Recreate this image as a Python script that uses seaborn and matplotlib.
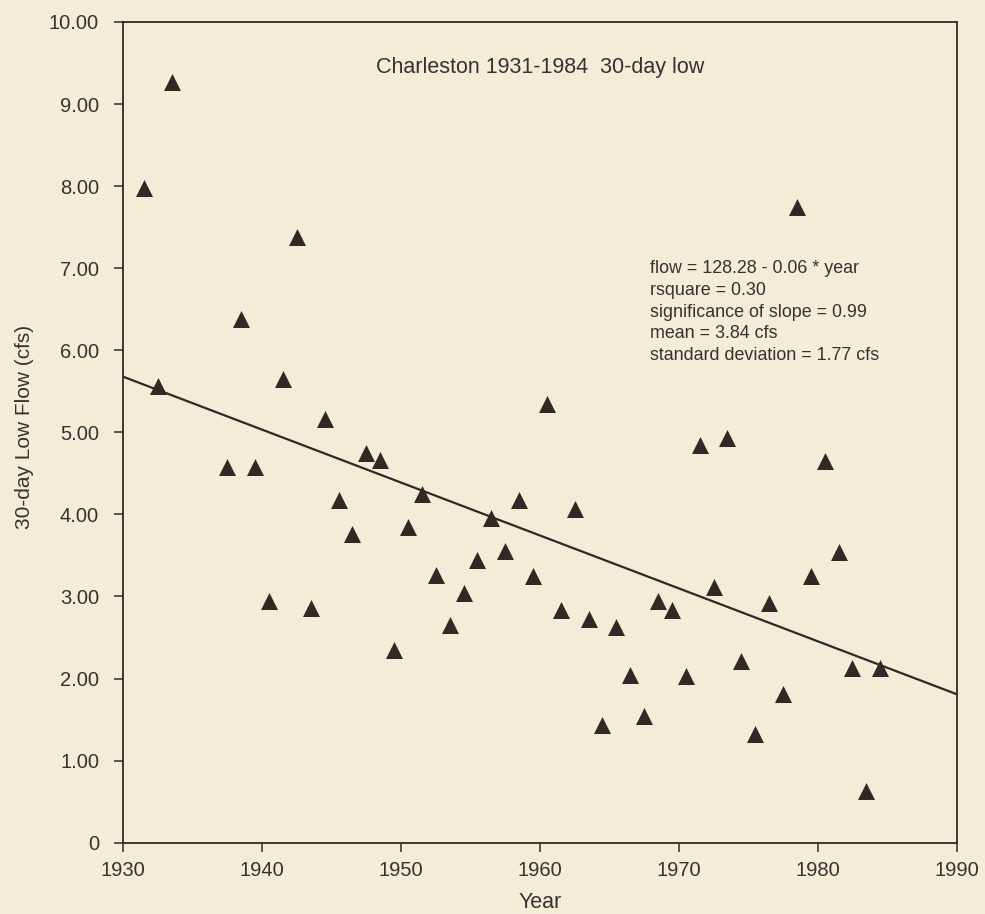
import pandas as pd
import matplotlib.pyplot as plt
import seaborn as sns

# Charleston 30-day low flow
years = [1931, 1932, 1933,
         1937, 1938, 1939, 1940, 1941, 1942, 1943, 1944, 1945, 1946,
         1947, 1948, 1949, 1950, 1951, 1952, 1953, 1954, 1955, 1956,
         1957, 1958, 1959, 1960, 1961, 1962, 1963, 1964, 1965, 1966,
         1967, 1968, 1969, 1970, 1971, 1972, 1973, 1974, 1975, 1976,
         1977, 1978, 1979, 1980, 1981, 1982, 1983, 1984]
flow = [7.98, 5.56, 9.27,
        4.58, 6.38, 4.58, 2.95, 5.65, 7.38, 2.86, 5.16, 4.17, 3.76,
        4.75, 4.66, 2.35, 3.85, 4.25, 3.26, 2.65, 3.04, 3.45, 3.96,
        3.55, 4.17, 3.25, 5.34, 2.83, 4.07, 2.73, 1.43, 2.63, 2.04,
        1.54, 2.94, 2.84, 2.03, 4.84, 3.12, 4.93, 2.21, 1.33, 2.92,
        1.81, 7.74, 3.25, 4.65, 3.54, 2.13, 0.63, 2.13]

x_ticks = [1930, 1940, 1950, 1960, 1970, 1980, 1990]
y_ticks = [0, 1, 2, 3, 4, 5, 6, 7, 8, 9, 10]
y_tick_labels = ["0", "1.00", "2.00", "3.00", "4.00", "5.00",
                 "6.00", "7.00", "8.00", "9.00", "10.00"]

title = "Charleston 1931-1984  30-day low"
stats_text = ("flow = 128.28 - 0.06 * year\n"
              "rsquare = 0.30\n"
              "significance of slope = 0.99\n"
              "mean = 3.84 cfs\n"
              "standard deviation = 1.77 cfs")

df = pd.DataFrame({"year": years, "flow": flow})
# markers sit in the middle of each year
df["x"] = df["year"] + 0.5

paper = "#f3ecd7"
ink = "#2f2a26"
text_col = "#36322f"

sns.set_theme(style="ticks")
plt.rcParams["font.family"] = ["Liberation Sans", "DejaVu Sans"]

fig = plt.figure(figsize=(9.85, 9.14), dpi=100)
fig.patch.set_facecolor(paper)
ax = fig.add_axes([0.1252, 0.078, 0.846, 0.898])
ax.set_facecolor(paper)

ax.set_xlim(1930, 1990)
ax.set_ylim(0, 10)

sns.regplot(data=df, x="x", y="flow", ax=ax, scatter=False, ci=None,
            truncate=False, color=ink, line_kws={"linewidth": 1.6})
sns.scatterplot(data=df, x="x", y="flow", ax=ax, marker="^", s=150,
                color=ink, edgecolor=ink, linewidth=0, zorder=3)

ax.set_xticks(x_ticks)
ax.set_xticklabels([str(t) for t in x_ticks])
ax.set_yticks(y_ticks)
ax.set_yticklabels(y_tick_labels)
ax.tick_params(axis="both", direction="out", length=6.5, width=1.1,
               color=ink, labelsize=14.5, labelcolor=text_col)
ax.tick_params(axis="y", pad=11)
ax.tick_params(axis="x", pad=7)

for side in ["left", "right", "top", "bottom"]:
    ax.spines[side].set_visible(True)
    ax.spines[side].set_color(ink)
    ax.spines[side].set_linewidth(1.3)

ax.set_xlabel("Year", fontsize=15.5, color=text_col, labelpad=8)
ax.set_ylabel("30-day Low Flow (cfs)", fontsize=15, color=text_col,
              labelpad=10.5)
ax.yaxis.label.set_y(0.507)

ax.text(0.5, 0.945, title, transform=ax.transAxes, ha="center",
        va="center", fontsize=15.5, color=text_col)
ax.text(0.632, 0.7094, stats_text, transform=ax.transAxes, ha="left",
        va="top", fontsize=12.9, color=text_col, linespacing=1.36)

fig.savefig("out.png", dpi=100, facecolor=paper)
